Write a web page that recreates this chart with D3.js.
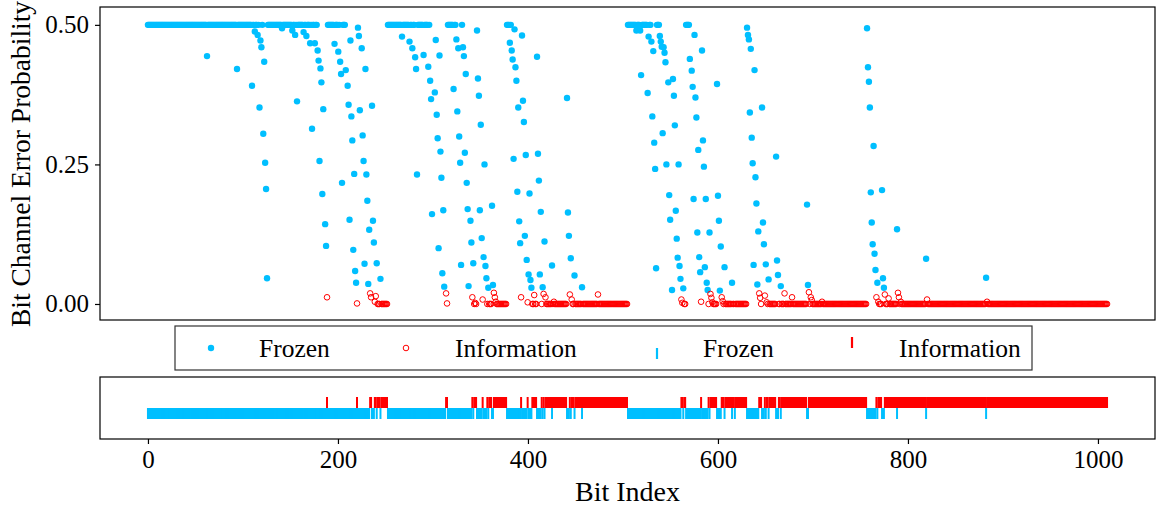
<!DOCTYPE html>
<html><head><meta charset="utf-8">
<script src="https://cdn.jsdelivr.net/npm/d3@7"></script>
<style>body{margin:0;background:#fff}svg{display:block}text{font-family:"Liberation Serif","Times New Roman",serif;fill:#000}</style>
</head><body>
<svg id="c" width="1158" height="510"></svg>
<script>
const N = 1024;
const xTicks = [0, 200, 400, 600, 800, 1000];
const yTicks = [0.00, 0.25, 0.50];
// frozen bits sitting on the 0.5 ceiling (index ranges)
const frozenSat = [[0,180],[192,210],[256,303],[320,335],[383,390],[512,552],[574,578]];
// frozen bits with visible intermediate error probability [index, value]
const frozenMid = [
[63,0.444],[95,0.421],[111,0.391],[114,0.488],[117,0.482],[119,0.352],[120,0.472],[121,0.46],[123,0.305],[124,0.434],[125,0.253],[126,0.206],[127,0.046],
[143,0.494],[154,0.49],[157,0.482],[159,0.363],[166,0.487],[169,0.48],[173,0.467],[175,0.314],[178,0.467],[181,0.454],[182,0.436],[183,0.256],[184,0.422],[185,0.397],[186,0.197],[187,0.349],[189,0.143],[190,0.104],
[199,0.466],[203,0.452],[205,0.434],[206,0.412],[207,0.217],[211,0.419],[213,0.391],[214,0.357],[215,0.151],[216,0.472],[217,0.336],[218,0.293],[219,0.097],[220,0.233],[221,0.059],[222,0.038],
[224,0.495],[225,0.48],[226,0.347],[228,0.458],[229,0.302],[230,0.256],[231,0.072],[232,0.421],[233,0.232],[234,0.185],[235,0.036],[236,0.133],[239,0.355],[240,0.149],[241,0.11],[244,0.073],[248,0.045],
[271,0.479],[279,0.47],[282,0.458],[285,0.442],[286,0.421],[287,0.232],[294,0.446],[299,0.425],[301,0.4],[302,0.367],[303,0.161],[306,0.379],[307,0.473],[308,0.339],[309,0.297],[310,0.1],[311,0.445],[312,0.273],[313,0.226],[314,0.055],[315,0.168],[316,0.031],
[326,0.385],[329,0.474],[330,0.345],[331,0.458],[332,0.3],[333,0.253],[334,0.07],[336,0.46],[337,0.444],[338,0.271],[339,0.412],[340,0.217],[341,0.17],[342,0.032],[344,0.149],[345,0.11],[347,0.073],[351,0.49],[352,0.404],[353,0.373],[354,0.168],[355,0.321],[356,0.118],[358,0.084],[359,0.25],[360,0.068],[361,0.046],[363,0.029],[367,0.176],[368,0.034],
[386,0.468],[388,0.454],[389,0.438],[390,0.26],[391,0.492],[392,0.424],[393,0.4],[394,0.201],[395,0.352],[396,0.148],[397,0.109],[399,0.481],[400,0.364],[401,0.326],[402,0.122],[403,0.267],[404,0.079],[406,0.053],[407,0.198],[408,0.043],[409,0.029],[415,0.443],[416,0.269],[417,0.221],[418,0.053],[419,0.165],[421,0.03],[423,0.112],[431,0.069],[447,0.369],
[448,0.164],[449,0.122],[451,0.082],[455,0.051],[463,0.03],
[521,0.49],[525,0.49],[526,0.41],[533,0.378],[534,0.479],[537,0.47],[538,0.336],[539,0.453],[540,0.289],[541,0.242],[542,0.064],[546,0.48],[547,0.47],[548,0.461],[549,0.306],[550,0.46],[551,0.45],[552,0.433],[553,0.25],[555,0.397],[556,0.195],[557,0.151],[559,0.025],[560,0.403],[561,0.373],[562,0.32],[563,0.167],[564,0.117],[565,0.083],[566,0.25],[567,0.068],[568,0.045],[571,0.028],
[578,0.439],[580,0.418],[581,0.389],[582,0.188],[583,0.482],[584,0.37],[585,0.334],[586,0.128],[587,0.276],[588,0.084],[589,0.057],[591,0.454],[592,0.293],[593,0.246],[594,0.066],[595,0.188],[596,0.038],[597,0.025],[599,0.128],[607,0.394],[608,0.194],[609,0.149],[610,0.024],[611,0.103],[615,0.066],[623,0.038],[639,0.495],
[640,0.482],[641,0.474],[642,0.343],[643,0.457],[644,0.298],[645,0.252],[646,0.07],[647,0.419],[648,0.227],[649,0.18],[650,0.035],[651,0.13],[655,0.352],[656,0.146],[657,0.107],[659,0.071],[662,0.044],[670,0.264],[671,0.078],[672,0.052],[675,0.032],[703,0.178],[704,0.034],
[767,0.494],[768,0.424],[769,0.398],[770,0.352],[771,0.2],[772,0.146],[773,0.107],[774,0.283],[775,0.09],[776,0.061],[778,0.038],[783,0.204],[784,0.046],[785,0.029],[799,0.134],[830,0.081],[894,0.047]
];
// information bit index ranges (inclusive)
const infoRanges = [[191,191],[223,223],[237,238],[242,243],[245,247],[249,255],[318,319],[346,346],[348,350],[357,357],[362,362],[364,366],[369,382],[398,398],[405,405],[410,414],[420,420],[422,422],[424,430],[432,446],[450,450],[452,454],[456,462],[464,511],[569,570],[572,573],[590,590],[598,598],[600,606],[612,614],[616,622],[624,625],[627,638],[652,654],[658,658],[660,661],[663,669],[673,674],[676,702],[705,766],[777,777],[779,782],[786,798],[800,829],[831,893],[895,1023]];
// information bits with a visible non-zero error probability [index, value]
const infoMid = [[191,0.012],[223,0.001],[237,0.019],[238,0.012],[242,0.004],[243,0.014],[318,0.019],[319,0.001],[346,0.012],[349,0.002],[357,0.008],[369,0.02],[370,0.012],[371,0.004],[398,0.012],[405,0.003],[412,0.016],[422,0.018],[424,0.012],[433,0.004],[450,0.017],[452,0.008],[480,0.017],[569,0.008],[570,0.002],[590,0.004],[600,0.018],[601,0.011],[602,0.003],[612,0.012],[613,0.005],[652,0.019],[653,0.011],[658,0.015],[660,0.003],[679,0.019],[687,0.012],[705,0.021],[707,0.012],[708,0.007],[719,0.004],[777,0.012],[779,0.004],[786,0.017],[790,0.01],[800,0.02],[801,0.012],[803,0.004],[831,0.008],[895,0.004]];

const BLUE = "#00BFFF", RED = "#FF0000";
const svg = d3.select("#c");
svg.append("rect").attr("width",1158).attr("height",510).attr("fill","#fff");

const L = 100, R = 1155;
const x = d3.scaleLinear().domain([-0.05*(N-1), 1.05*(N-1)]).range([L, R]);
// tick axis as labelled in the reference (0 at the first bit, 1000 slightly right of the data scale)
const xAxisScale = d3.scaleLinear().domain([0, 1000]).range([x(0), x(0) + 950]);
const yTop = d3.scaleLinear().domain([-0.0287, 0.532]).range([320, 7]);

// build point sets
const midSet = new Set(frozenMid.map(d => d[0]));
const blue = [];
frozenSat.forEach(([a,b]) => { for (let i=a;i<=b;i++) if(!midSet.has(i)) blue.push([i,0.5]); });
frozenMid.forEach(d => blue.push(d));
const infoSet = new Set();
infoRanges.forEach(([a,b]) => { for (let i=a;i<=b;i++) infoSet.add(i); });
const infoVal = new Map(infoMid);
const red = [];
infoSet.forEach(i => red.push([i, infoVal.has(i) ? infoVal.get(i) : 0]));
infoMid.forEach(d => { if(!infoSet.has(d[0])) red.push(d); });
const frozenAll = d3.range(N).filter(i => !infoSet.has(i));

// top axes
const gTop = svg.append("g");
gTop.selectAll("circle.f").data(blue).enter().append("circle")
  .attr("cx", d => x(d[0])).attr("cy", d => yTop(d[1])).attr("r", 3.2).attr("fill", BLUE);
gTop.selectAll("circle.i").data(red).enter().append("circle")
  .attr("cx", d => x(d[0])).attr("cy", d => yTop(d[1])).attr("r", 2.8)
  .attr("fill", "none").attr("stroke", RED).attr("stroke-width", 1);
svg.append("rect").attr("x", L).attr("y", 7).attr("width", R-L).attr("height", 313)
  .attr("fill","none").attr("stroke","#000").attr("stroke-width",1.2);
const yAx = svg.append("g").attr("transform", `translate(${L},0)`)
  .call(d3.axisLeft(yTop).tickValues(yTicks).tickFormat(d3.format(".2f")).tickSize(5).tickPadding(6));
yAx.select(".domain").remove();
yAx.selectAll("line").attr("stroke","#000").attr("stroke-width",1.2);
yAx.selectAll("text").attr("font-size", 25).attr("font-family","Liberation Serif");
svg.append("text").attr("transform","translate(30,164) rotate(-90)").attr("text-anchor","middle")
  .attr("font-size", 27.5).text("Bit Channel Error Probability");

// legend
const lg = svg.append("g");
lg.append("rect").attr("x",175).attr("y",326).attr("width",857).attr("height",44)
  .attr("fill","#fff").attr("stroke","#333").attr("stroke-width",1.2);
lg.append("circle").attr("cx",211).attr("cy",348).attr("r",3.2).attr("fill",BLUE);
lg.append("text").attr("x",259).attr("y",348).attr("dy","0.35em").attr("font-size",25.5).text("Frozen");
lg.append("circle").attr("cx",406).attr("cy",348).attr("r",2.8).attr("fill","none").attr("stroke",RED);
lg.append("text").attr("x",455).attr("y",348).attr("dy","0.35em").attr("font-size",25.5).text("Information");
lg.append("line").attr("x1",657).attr("x2",657).attr("y1",348).attr("y2",359).attr("stroke",BLUE).attr("stroke-width",2.2);
lg.append("text").attr("x",703).attr("y",348).attr("dy","0.35em").attr("font-size",25.5).text("Frozen");
lg.append("line").attr("x1",852).attr("x2",852).attr("y1",337).attr("y2",348).attr("stroke",RED).attr("stroke-width",2.2);
lg.append("text").attr("x",899).attr("y",348).attr("dy","0.35em").attr("font-size",25.5).text("Information");

// bottom axes
const yB = d3.scaleLinear().domain([-1, 1]).range([439, 377]);
const gB = svg.append("g");
gB.selectAll("line.f").data(frozenAll).enter().append("line")
  .attr("x1", d => x(d)).attr("x2", d => x(d)).attr("y1", yB(0)).attr("y2", yB(0)+11)
  .attr("stroke", BLUE).attr("stroke-width", 2);
gB.selectAll("line.i").data(Array.from(infoSet)).enter().append("line")
  .attr("x1", d => x(d)).attr("x2", d => x(d)).attr("y1", yB(0)-11).attr("y2", yB(0))
  .attr("stroke", RED).attr("stroke-width", 2);
svg.append("rect").attr("x", L).attr("y", 377).attr("width", R-L).attr("height", 62)
  .attr("fill","none").attr("stroke","#000").attr("stroke-width",1.2);
const xAx = svg.append("g").attr("transform","translate(0,439)")
  .call(d3.axisBottom(xAxisScale).tickValues(xTicks).tickFormat(d3.format("d")).tickSize(5).tickPadding(6));
xAx.select(".domain").remove();
xAx.selectAll("line").attr("stroke","#000").attr("stroke-width",1.2);
xAx.selectAll("text").attr("font-size",25).attr("font-family","Liberation Serif");
svg.append("text").attr("x", (L+R)/2).attr("y", 501).attr("text-anchor","middle").attr("font-size",28).text("Bit Index");
</script>
</body></html>
